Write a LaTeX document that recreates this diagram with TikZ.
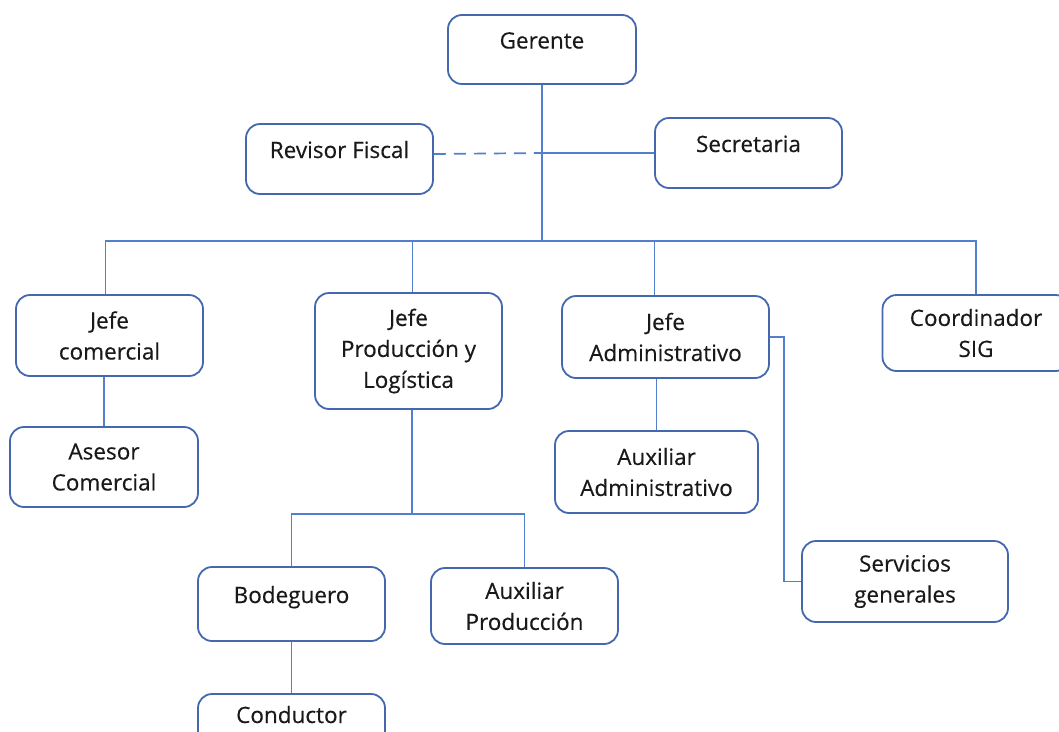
\documentclass[tikz,border=0pt]{standalone}
\usepackage{fontspec}
\setmainfont{Open Sans}
\newfontfamily\boxfont[FakeBold=0.4]{Open Sans}
\definecolor{boxblue}{RGB}{68,104,176}
\definecolor{lineblue}{RGB}{82,128,206}
\begin{document}
\begin{tikzpicture}[x=1pt, y=-1pt,
    box/.style={draw=boxblue, line width=1.8pt, rounded corners=14pt, align=center, inner sep=0pt,
      text=black!90, font=\boxfont\fontsize{22.5}{31}\selectfont, minimum width=187pt},
    oneline/.style={text height=15pt, text depth=17pt},
    link/.style={draw=lineblue, line width=1.7pt}]
  \useasboundingbox (0, 0) rectangle (1059, 731);

  \node [box, oneline, minimum width=188pt, minimum height=69pt] (ger) at (542, 49.5) {Gerente};
  \node [box, oneline, minimum height=70pt] (rev) at (339.5, 159) {Revisor Fiscal};
  \node [box, oneline, minimum height=70pt] (sec) at (748.5, 153) {Secretaria};

  \node [box, minimum height=81pt] (jc) at (109.5, 335.5) {Jefe\\comercial};
  \node [box, minimum height=116pt] (jpl) at (408.5, 351) {Jefe\\Producción y\\Logística};
  \node [box, minimum width=207pt, minimum height=82pt] (ja) at (665.5, 337) {Jefe\\Administrativo};
  \node [box, minimum height=76pt] (sig) at (976, 333) {Coordinador\\SIG};

  \node [box, minimum width=188pt, minimum height=80pt] (ase) at (104, 467) {Asesor\\Comercial};
  \node [box, minimum width=203pt, minimum height=82pt] (aa) at (656.5, 472) {Auxiliar\\Administrativo};
  \node [box, minimum width=206pt, minimum height=81pt] (serv) at (905, 581.5) {Servicios\\generales};

  \node [box, oneline, minimum height=74pt] (bod) at (291.5, 604) {Bodeguero};
  \node [box, minimum height=76pt] (aux) at (524.5, 606) {Auxiliar\\Producción};
  \node [box, oneline, minimum height=60pt] (cond) at (291.5, 724) {Conductor};

  \coordinate (bus) at (542, 241);
  \coordinate (pbus) at (412, 514);

  \draw [link] (ger) -- (bus);
  \draw [link, dash pattern=on 12pt off 8pt] ([yshift=5pt]rev.east) -- (ger.south |- sec.west);
  \draw [link] (ger.south |- sec.west) -- (sec.west);

  \draw [link] ([xshift=-4pt]jc.north) |- (sig.north |- bus) -- (sig.north);
  \draw [link] ([xshift=4pt]jpl.north) -- ([xshift=4pt]jpl.north |- bus);
  \draw [link] ([xshift=-11pt]ja.north) -- ([xshift=-11pt]ja.north |- bus);

  \draw [link] (ase.north) -- (ase.north |- jc.south);
  \draw [link] (aa.north) -- (aa.north |- ja.south);
  \draw [link] (ja.east) -- ++(14, 0) |- (serv.west);

  \draw [link] (pbus |- jpl.south) -- (pbus);
  \draw [link] (bod.north) |- (aux.north |- pbus) -- (aux.north);
  \draw [link] (bod) -- (cond);
\end{tikzpicture}
\end{document}
